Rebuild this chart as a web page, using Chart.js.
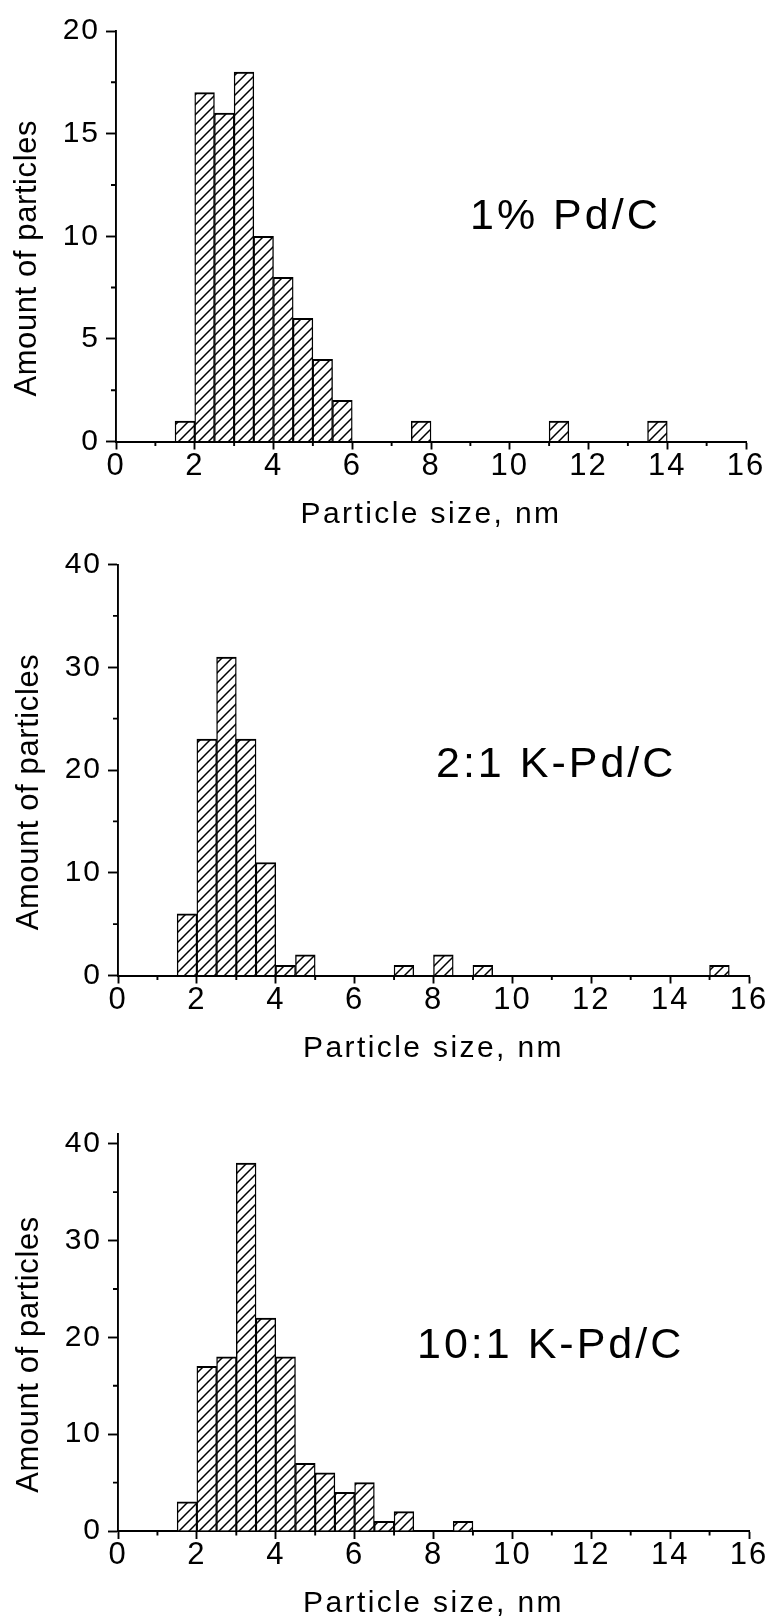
<!DOCTYPE html>
<html>
<head>
<meta charset="utf-8">
<script src="https://cdn.jsdelivr.net/npm/chart.js@4.4.1/dist/chart.umd.min.js"></script>
<style>
  html, body { margin: 0; padding: 0; background: #fff; }
  #wrap { position: relative; width: 769px; height: 1620px; }
  canvas { position: absolute; left: 0; }
</style>
</head>
<body>
<div id="wrap">
  <canvas id="c1" width="769" height="540" style="top:0"></canvas>
  <canvas id="c2" width="769" height="540" style="top:540px"></canvas>
  <canvas id="c3" width="769" height="540" style="top:1080px"></canvas>
</div>
<script>
// size bins are 0.5 nm wide; arrays hold the lower edge of each bin
const BIN_WIDTH = 0.5;

const pdBins   = [1.5, 2, 2.5, 3, 3.5, 4, 4.5, 5, 5.5, 7.5, 11, 13.5];
const pdCounts = [1, 17, 16, 18, 10, 8, 6, 4, 2, 1, 1, 1];

const k2Bins   = [1.5, 2, 2.5, 3, 3.5, 4, 4.5, 7, 8, 9, 15];
const k2Counts = [6, 23, 31, 23, 11, 1, 2, 1, 2, 1, 1];

const k10Bins   = [1.5, 2, 2.5, 3, 3.5, 4, 4.5, 5, 5.5, 6, 6.5, 7, 8.5];
const k10Counts = [3, 17, 18, 38, 22, 18, 7, 6, 4, 5, 1, 2, 1];

const panelLabels = ['1% Pd/C', '2:1 K-Pd/C', '10:1 K-Pd/C'];
const xRange = [0, 16];
const xStep = 2;
const yMaxes = [20, 40, 41];
const ySteps = [5, 10, 10];

const X_TITLE = 'Particle size, nm';
const Y_TITLE = 'Amount of particles';

const FONT = '"Liberation Sans", Arial, Helvetica, sans-serif';
const AXIS_W = 1.9;

function hatchPattern() {
  const c = document.createElement('canvas');
  c.width = 10; c.height = 10;
  const g = c.getContext('2d');
  g.fillStyle = '#fff';
  g.fillRect(0, 0, 10, 10);
  g.strokeStyle = '#000';
  g.lineWidth = 1.5;
  g.beginPath();
  g.moveTo(-2, 12); g.lineTo(12, -2);
  g.moveTo(-7, 7); g.lineTo(7, -7);
  g.moveTo(3, 17); g.lineTo(17, 3);
  g.stroke();
  return g.createPattern(c, 'repeat');
}

// minor ticks, axis titles and the sample label
const decorPlugin = {
  id: 'decor',
  beforeDraw(chart) {
    // the tick labels of the original are set a little wide
    chart.ctx.letterSpacing = '2px';
  },
  afterDraw(chart, args, opts) {
    const { ctx, chartArea: a, scales: { x, y } } = chart;
    ctx.save();
    ctx.strokeStyle = '#000';
    ctx.lineWidth = AXIS_W;
    ctx.beginPath();
    for (let v = x.min + xStep / 2; v < x.max; v += xStep) {
      const px = x.getPixelForValue(v);
      ctx.moveTo(px, a.bottom);
      ctx.lineTo(px, a.bottom + 4.5);
    }
    for (let v = opts.yStep / 2; v < y.max; v += opts.yStep) {
      const py = y.getPixelForValue(v);
      ctx.moveTo(a.left, py);
      ctx.lineTo(a.left - 5, py);
    }
    ctx.stroke();

    ctx.fillStyle = '#000';
    ctx.textBaseline = 'alphabetic';

    ctx.font = '30px ' + FONT;
    ctx.letterSpacing = '2.4px';
    ctx.textAlign = 'center';
    ctx.fillText(X_TITLE, (a.left + a.right) / 2, a.bottom + 81);

    ctx.save();
    ctx.translate(a.left - 80, (a.top + a.bottom) / 2 + 22);
    ctx.rotate(-Math.PI / 2);
    ctx.font = '31px ' + FONT;
    ctx.letterSpacing = '0.6px';
    ctx.fillText(Y_TITLE, 0, 0);
    ctx.restore();

    ctx.font = '43px ' + FONT;
    ctx.letterSpacing = '3px';
    ctx.textAlign = 'left';
    ctx.fillText(opts.label, opts.labelX, opts.labelY);
    ctx.restore();
    ctx.letterSpacing = '0px';
  }
};

function makeChart(id, bins, counts, p) {
  const hatch = hatchPattern();
  return new Chart(document.getElementById(id), {
    type: 'bar',
    data: {
      datasets: [{
        data: bins.map((b, i) => ({ x: b + BIN_WIDTH / 2, y: counts[i] })),
        backgroundColor: hatch,
        borderColor: '#000',
        borderWidth: { top: 2, left: 1.4, right: 1.4, bottom: 0 },
        borderSkipped: 'start',
        barPercentage: 1,
        categoryPercentage: 1,
      }],
    },
    options: {
      responsive: false,
      animation: false,
      devicePixelRatio: 1,
      layout: { padding: { top: p.top, right: p.right, left: 0, bottom: 0 } },
      plugins: {
        legend: { display: false },
        tooltip: { enabled: false },
        decor: { yStep: p.yStep, label: p.label, labelX: p.labelX, labelY: p.labelY },
      },
      scales: {
        x: {
          type: 'linear',
          min: xRange[0],
          max: xRange[1],
          offset: false,
          afterFit: s => { s.height = p.xHeight; },
          grid: { offset: false, drawOnChartArea: false, drawTicks: true, tickLength: 8, tickWidth: AXIS_W, tickColor: '#000', color: '#000' },
          border: { display: true, color: '#000', width: AXIS_W },
          ticks: { stepSize: xStep, includeBounds: false, autoSkip: false, maxRotation: 0, color: '#000', padding: -2, font: { family: FONT, size: 31 } },
        },
        y: {
          min: 0,
          max: p.yMax,
          afterFit: s => { s.width = p.yWidth; },
          grid: { drawOnChartArea: false, drawTicks: true, tickLength: 10, tickWidth: AXIS_W, tickColor: '#000', color: '#000' },
          border: { display: true, color: '#000', width: AXIS_W },
          ticks: { stepSize: p.yStep, includeBounds: false, color: '#000', padding: 6, font: { family: FONT, size: 30 } },
        },
      },
    },
    plugins: [decorPlugin],
  });
}

makeChart('c1', pdBins, pdCounts, {
  top: 31, right: 23, xHeight: 98.5, yWidth: 116, yMax: yMaxes[0], yStep: ySteps[0],
  label: panelLabels[0], labelX: 470, labelY: 229,
});
makeChart('c2', k2Bins, k2Counts, {
  top: 24.5, right: 20, xHeight: 104.5, yWidth: 118, yMax: yMaxes[1], yStep: ySteps[1],
  label: panelLabels[1], labelX: 436, labelY: 237,
});
makeChart('c3', k10Bins, k10Counts, {
  top: 54, right: 20, xHeight: 89, yWidth: 118, yMax: yMaxes[2], yStep: ySteps[2],
  label: panelLabels[2], labelX: 417, labelY: 278,
});
</script>
</body>
</html>
